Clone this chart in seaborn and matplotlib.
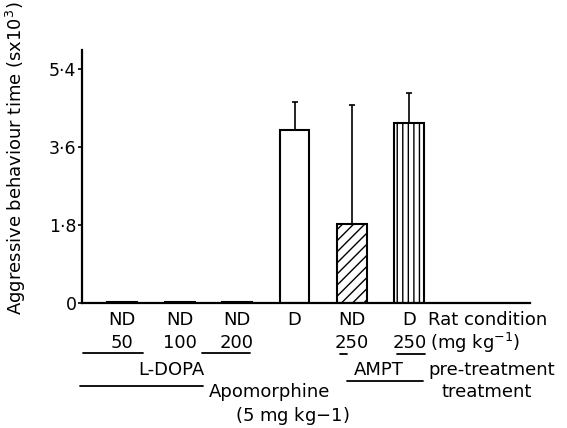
import matplotlib
matplotlib.use("Agg")
import matplotlib.pyplot as plt
import numpy as np
import pandas as pd
import seaborn as sns

# ---------------------------------------------------------------------------
# Data
# ---------------------------------------------------------------------------
groups     = ["ND 50", "ND 100", "ND 200", "D", "ND 250", "D 250"]
condition  = ["ND", "ND", "ND", "D", "ND", "D"]
doses      = ["50", "100", "200", "", "250", "250"]
means      = [0.03, 0.03, 0.03, 4.0, 1.82, 4.15]
sem_upper  = [0.0, 0.0, 0.0, 0.64, 2.75, 0.70]
hatches    = ["", "", "", "", "///", "|||"]
yticks     = [0, 1.8, 3.6, 5.4]
ytick_lbls = ["0", "1·8", "3·6", "5·4"]

W, H = 567, 428

sns.set_style("ticks")
plt.rcParams["font.family"] = ["DejaVu Sans"]
plt.rcParams["text.color"] = "black"
plt.rcParams["ytick.color"] = "black"
plt.rcParams["axes.edgecolor"] = "black"

fig = plt.figure(figsize=(W / 100, H / 100), dpi=100)
ax = fig.add_axes([82 / W, 1 - 303 / H, (530 - 82) / W, (303 - 50) / H])

df = pd.DataFrame({"group": groups, "mean": means})
sns.barplot(data=df, x="group", y="mean", order=groups, color="white",
            edgecolor="black", linewidth=1.5, width=0.52, errorbar=None, ax=ax)

for patch, h in zip(ax.patches, hatches):
    patch.set_hatch(h)
    patch.set_facecolor("white")

xpos = np.arange(len(groups))
ax.errorbar(xpos, means, yerr=[np.zeros(len(means)), sem_upper], fmt="none",
            ecolor="black", elinewidth=1.2, capsize=2, capthick=1.2)

ax.set_xlim(-0.70, 7.1)
ax.set_ylim(0, 5.84)
ax.set_yticks(yticks)
ax.set_yticklabels(ytick_lbls, fontsize=12.5)
ax.tick_params(axis="y", direction="out", length=3, width=1.2, pad=1)
ax.set_xticks([])
ax.set_xlabel("")
ax.set_ylabel("")
sns.despine(ax=ax)
for s in ("left", "bottom"):
    ax.spines[s].set_linewidth(1.6)

fig.text(16 / W, 1 - 158 / H, "Aggressive behaviour time (sx10$^3$)",
         rotation=90, ha="center", va="center", fontsize=13)

# --- annotation rows under the axis -------------------------------------
trans = ax.get_xaxis_transform()
FS = 13


def ay(py):
    # pixel row -> axes fraction
    return (303 - py) / (303 - 50)


def fx(px):
    return px / W


def fy(py):
    return 1 - py / H


for i, c in enumerate(condition):
    ax.text(i, ay(320), c, transform=trans, ha="center", va="center",
            fontsize=FS, clip_on=False)
    if doses[i]:
        ax.text(i, ay(343), doses[i], transform=trans, ha="center",
                va="center", fontsize=FS, clip_on=False)

fig.text(fx(428), fy(320), "Rat condition", ha="left", va="center", fontsize=FS)
fig.text(fx(430), fy(343), "(mg kg$^{-1}$)", ha="left", va="center", fontsize=FS)
fig.text(fx(171), fy(370), "L-DOPA", ha="center", va="center", fontsize=FS)
fig.text(fx(379), fy(370), "AMPT", ha="center", va="center", fontsize=FS)
fig.text(fx(428), fy(370), "pre-treatment", ha="left", va="center", fontsize=FS)
fig.text(fx(270), fy(392), "Apomorphine", ha="center", va="center", fontsize=FS)
fig.text(fx(442), fy(392), "treatment", ha="left", va="center", fontsize=FS)
fig.text(fx(292), fy(416), "(5 mg kg$-$1)", ha="center", va="center", fontsize=FS)

segments = [
    (83, 143, 353), (202, 250, 353), (340, 347, 354), (397, 425, 354),
    (80, 203, 386), (347, 423, 381),
]
for x0, x1, y in segments:
    fig.add_artist(plt.Line2D([fx(x0), fx(x1)], [fy(y), fy(y)],
                              color="black", linewidth=1.3))

fig.savefig("out.png", dpi=100)
